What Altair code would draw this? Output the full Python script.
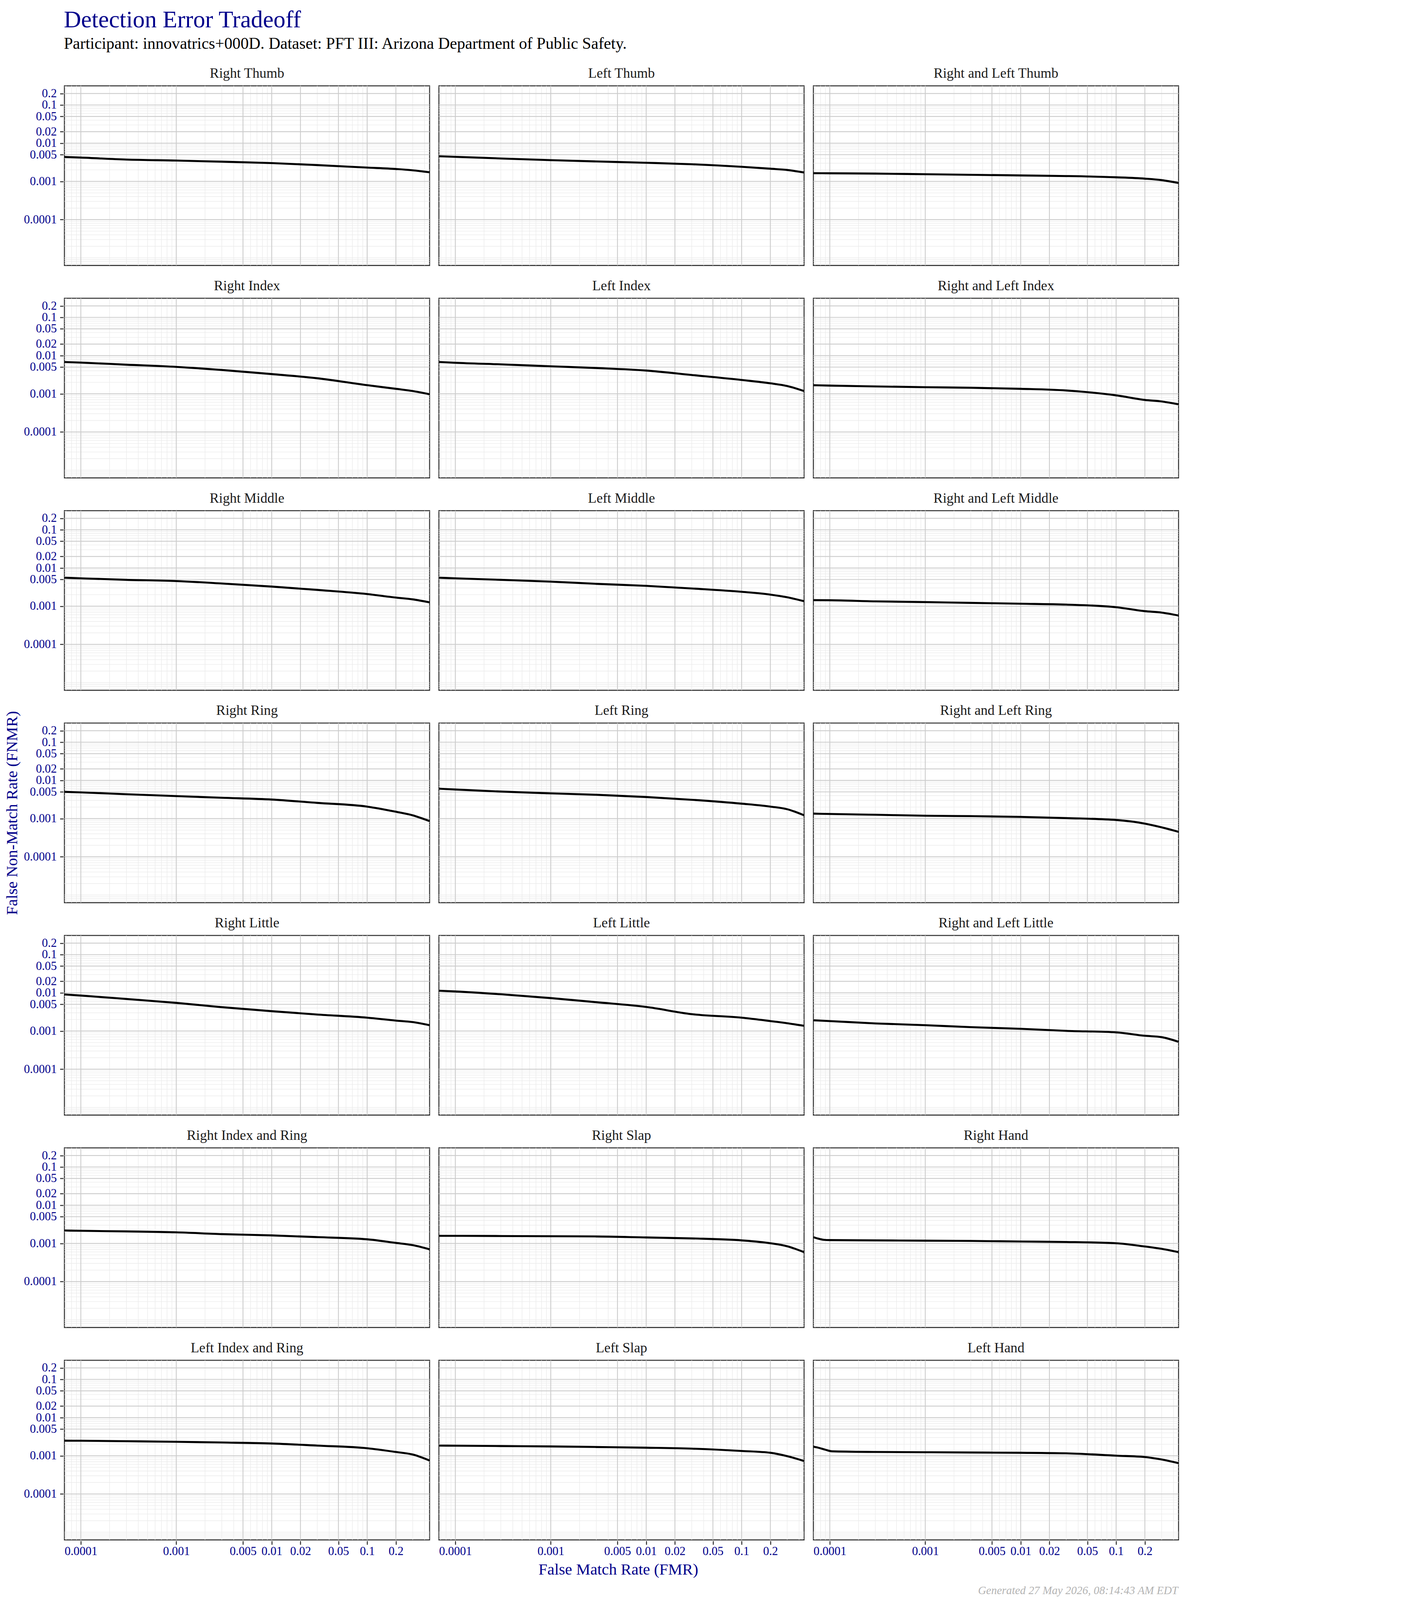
import altair as alt
import pandas as pd

FONT = "Liberation Serif"
BLUE = "#00008B"
S = 0.85  # overall size factor so the whole figure fits the photographed page


def p(v):
    return round(v * S, 2)


TITLE = "Detection Error Tradeoff"
SUBTITLE = "Participant: innovatrics+000D. Dataset: PFT III: Arizona Department of Public Safety."
X_TITLE = "False Match Rate (FMR)"
Y_TITLE = "False Non-Match Rate (FNMR)"
FOOTER = "Generated 27 May 2026, 08:14:43 AM EDT"

PANELS = [
    "Right Thumb", "Left Thumb", "Right and Left Thumb",
    "Right Index", "Left Index", "Right and Left Index",
    "Right Middle", "Left Middle", "Right and Left Middle",
    "Right Ring", "Left Ring", "Right and Left Ring",
    "Right Little", "Left Little", "Right and Left Little",
    "Right Index and Ring", "Right Slap", "Right Hand",
    "Left Index and Ring", "Left Slap", "Left Hand",
]

# FMR sample points
FMR = [6.73e-5, 1e-4, 3e-4, 1e-3, 3e-3, 1e-2, 3e-2, 0.1, 0.2, 0.3, 0.451]
FMR_RIGHT_HAND = [6.73e-5, 7.5e-5, 8.67e-5, 1e-4, 3e-4, 1e-3, 3e-3, 1e-2, 3e-2, 0.1, 0.2, 0.3, 0.451]
FMR_LEFT_HAND = [6.73e-5, 7.78e-5, 9.0e-5, 1.056e-4, 3e-4, 1e-3, 3e-3, 1e-2, 3e-2, 0.1, 0.2, 0.3, 0.451]

# FNMR values per panel
RIGHT_THUMB = [0.00435, 0.0042, 0.00372, 0.00351, 0.00328, 0.00301, 0.00267, 0.0023, 0.00211, 0.00195, 0.00173]
LEFT_THUMB = [0.00455, 0.0044, 0.00398, 0.0036, 0.00333, 0.00307, 0.00281, 0.00241, 0.00215, 0.00199, 0.00171]
RL_THUMB = [0.00164, 0.00163, 0.0016, 0.00154, 0.00149, 0.00143, 0.00138, 0.00128, 0.00118, 0.00108, 0.00091]
RIGHT_INDEX = [0.0068, 0.00656, 0.00578, 0.00506, 0.0042, 0.00328, 0.00255, 0.00168, 0.00135, 0.00118, 0.00097]
LEFT_INDEX = [0.0068, 0.00648, 0.0059, 0.00524, 0.00473, 0.00406, 0.00311, 0.0023, 0.00188, 0.0016, 0.00118]
RL_INDEX = [0.00168, 0.00164, 0.00156, 0.00149, 0.00144, 0.00135, 0.00122, 0.00091, 0.00069, 0.00063, 0.00053]
RIGHT_MIDDLE = [0.00556, 0.00537, 0.0049, 0.00455, 0.00393, 0.00326, 0.00267, 0.00208, 0.00168, 0.00151, 0.00126]
LEFT_MIDDLE = [0.00556, 0.00537, 0.0049, 0.0044, 0.00385, 0.00341, 0.00291, 0.00238, 0.00201, 0.00171, 0.00135]
RL_MIDDLE = [0.00144, 0.00143, 0.00134, 0.00128, 0.00122, 0.00116, 0.0011, 0.00094, 0.00074, 0.00068, 0.00057]
RIGHT_RING = [0.00502, 0.00486, 0.00434, 0.00388, 0.00351, 0.00315, 0.00258, 0.00206, 0.00151, 0.00122, 0.00086]
LEFT_RING = [0.00607, 0.00578, 0.0051, 0.00458, 0.0042, 0.00367, 0.00311, 0.00246, 0.00206, 0.00176, 0.00122]
RL_RING = [0.00135, 0.00132, 0.00126, 0.00119, 0.00116, 0.00111, 0.00103, 0.00092, 0.00074, 0.00059, 0.00045]
RIGHT_LITTLE = [0.00906, 0.00847, 0.00689, 0.00545, 0.0042, 0.0033, 0.0027, 0.00223, 0.00187, 0.00171, 0.00142]
LEFT_LITTLE = [0.01135, 0.01084, 0.00916, 0.00726, 0.00567, 0.00426, 0.00276, 0.00223, 0.00182, 0.0016, 0.00137]
RL_LITTLE = [0.00191, 0.00182, 0.00158, 0.00142, 0.00126, 0.00114, 0.00101, 0.00092, 0.00075, 0.00069, 0.00052]
RIGHT_INDEX_RING = [0.00218, 0.00214, 0.00206, 0.00195, 0.00175, 0.00162, 0.00146, 0.00128, 0.00103, 0.0009, 0.0007]
RIGHT_SLAP = [0.00158, 0.00158, 0.00156, 0.00154, 0.00152, 0.00143, 0.00135, 0.0012, 0.00101, 0.00084, 0.00059]
RIGHT_HAND = [0.00146, 0.00134, 0.00124, 0.00122, 0.0012, 0.00118, 0.00116, 0.00112, 0.00109, 0.00101, 0.00083, 0.00072, 0.00059]
LEFT_INDEX_RING = [0.00249, 0.00248, 0.00241, 0.00233, 0.00223, 0.0021, 0.00185, 0.00158, 0.00126, 0.00108, 0.00075]
LEFT_SLAP = [0.00185, 0.00184, 0.0018, 0.00176, 0.0017, 0.00163, 0.00154, 0.00134, 0.0012, 0.00098, 0.00073]
LEFT_HAND = [0.00173, 0.0016, 0.00144, 0.00131, 0.00126, 0.00124, 0.00122, 0.0012, 0.00116, 0.00101, 0.00093, 0.0008, 0.00064]

CURVES = {
    "Right Thumb": (FMR, RIGHT_THUMB),
    "Left Thumb": (FMR, LEFT_THUMB),
    "Right and Left Thumb": (FMR, RL_THUMB),
    "Right Index": (FMR, RIGHT_INDEX),
    "Left Index": (FMR, LEFT_INDEX),
    "Right and Left Index": (FMR, RL_INDEX),
    "Right Middle": (FMR, RIGHT_MIDDLE),
    "Left Middle": (FMR, LEFT_MIDDLE),
    "Right and Left Middle": (FMR, RL_MIDDLE),
    "Right Ring": (FMR, RIGHT_RING),
    "Left Ring": (FMR, LEFT_RING),
    "Right and Left Ring": (FMR, RL_RING),
    "Right Little": (FMR, RIGHT_LITTLE),
    "Left Little": (FMR, LEFT_LITTLE),
    "Right and Left Little": (FMR, RL_LITTLE),
    "Right Index and Ring": (FMR, RIGHT_INDEX_RING),
    "Right Slap": (FMR, RIGHT_SLAP),
    "Right Hand": (FMR_RIGHT_HAND, RIGHT_HAND),
    "Left Index and Ring": (FMR, LEFT_INDEX_RING),
    "Left Slap": (FMR, LEFT_SLAP),
    "Left Hand": (FMR_LEFT_HAND, LEFT_HAND),
}

# axis tick labels
X_MAJOR = [0.0001, 0.001, 0.005, 0.01, 0.02, 0.05, 0.1, 0.2]
Y_MAJOR = [0.0001, 0.001, 0.005, 0.01, 0.02, 0.05, 0.1, 0.2]
X_DOMAIN = [6.73e-5, 0.451]
Y_DOMAIN = [6.3e-6, 0.317]


def minor_values(lo, hi, major):
    out = []
    for e in range(-7, 1):
        for k in range(1, 10):
            v = round(k * 10.0 ** e, 12)
            if lo < v < hi and all(abs(v - m) > 1e-13 for m in major):
                out.append(v)
    return out


X_MINOR = minor_values(X_DOMAIN[0], X_DOMAIN[1], X_MAJOR)
Y_MINOR = minor_values(Y_DOMAIN[0], Y_DOMAIN[1], Y_MAJOR)

rows = []
for pn in PANELS:
    xs_, ys_ = CURVES[pn]
    for a, b in zip(xs_, ys_):
        rows.append({"panel": pn, "kind": "det", "x": a, "y": b})
    for v in X_MINOR:
        rows.append({"panel": pn, "kind": "vmin", "x": v, "y": None})
    for v in X_MAJOR:
        rows.append({"panel": pn, "kind": "vmaj", "x": v, "y": None})
    for v in Y_MINOR:
        rows.append({"panel": pn, "kind": "hmin", "x": None, "y": v})
    for v in Y_MAJOR:
        rows.append({"panel": pn, "kind": "hmaj", "x": None, "y": v})
df = pd.DataFrame(rows)

xscale = alt.Scale(type="log", domain=X_DOMAIN, nice=False)
yscale = alt.Scale(type="log", domain=Y_DOMAIN, nice=False)
x_axis = alt.Axis(values=X_MAJOR, format="~g", grid=False, domain=False,
                  tickColor="#333333", tickWidth=p(3), tickSize=p(11),
                  labelColor=BLUE, labelFont=FONT, labelFontSize=p(36),
                  labelPadding=p(3), labelFlush=False, labelOverlap=False, title=None)
y_axis = alt.Axis(values=Y_MAJOR, format="~g", grid=False, domain=False,
                  tickColor="#333333", tickWidth=p(3), tickSize=p(10),
                  labelColor=BLUE, labelFont=FONT, labelFontSize=p(36),
                  labelPadding=p(10), labelFlush=False, labelOverlap=False, title=None)

X = alt.X("x:Q", scale=xscale, axis=x_axis)
Y = alt.Y("y:Q", scale=yscale, axis=y_axis)

base = alt.Chart()
vmin = base.mark_rule(color="#EBEBEB", strokeWidth=p(1.6)).encode(x=X).transform_filter(alt.datum.kind == "vmin")
hmin = base.mark_rule(color="#EBEBEB", strokeWidth=p(1.6)).encode(y=Y).transform_filter(alt.datum.kind == "hmin")
vmaj = base.mark_rule(color="#CCCCCC", strokeWidth=p(2.6)).encode(x=X).transform_filter(alt.datum.kind == "vmaj")
hmaj = base.mark_rule(color="#CCCCCC", strokeWidth=p(2.6)).encode(y=Y).transform_filter(alt.datum.kind == "hmaj")
det = base.mark_line(color="black", strokeWidth=p(6), interpolate="monotone", clip=True).encode(
    x=X, y=Y, order="x:Q").transform_filter(alt.datum.kind == "det")

cells = alt.layer(vmin, hmin, vmaj, hmaj, det, data=df).properties(width=p(1100), height=p(541))

facet = cells.facet(
    facet=alt.Facet("panel:N", sort=PANELS, title=None,
                    header=alt.Header(labelFont=FONT, labelFontSize=p(42), labelColor="#1A1A1A",
                                      labelPadding=p(14))),
    columns=3,
    spacing={"row": p(35), "column": p(21)},
)

NOSTROKE = alt.ViewBackground(stroke="transparent")

side = alt.Chart(pd.DataFrame({"t": [Y_TITLE]})).mark_text(
    angle=270, font=FONT, fontSize=p(48), color=BLUE, baseline="middle", align="center"
).encode(text="t:N", x=alt.value(p(26)), y=alt.value(p(2190))).properties(
    width=p(50), height=p(4380), view=NOSTROKE)

xtitle = alt.Chart(pd.DataFrame({"t": [X_TITLE]})).mark_text(
    font=FONT, fontSize=p(48), color=BLUE, baseline="alphabetic", align="center"
).encode(text="t:N", x=alt.value(p(1851)), y=alt.value(p(48)))
footer = alt.Chart(pd.DataFrame({"t": [FOOTER]})).mark_text(
    font=FONT, fontSize=p(34), fontStyle="italic", color="#B3B3B3", baseline="alphabetic", align="right"
).encode(text="t:N", x=alt.value(p(3537)), y=alt.value(p(107)))
bottom = alt.layer(xtitle, footer).properties(width=p(3537), height=p(110), view=NOSTROKE)

chart = alt.vconcat(
    alt.hconcat(side, facet, spacing=p(7)),
    bottom,
    spacing=0,
).properties(
    padding={"left": 0, "top": p(15), "right": 0, "bottom": 0},
    title=alt.TitleParams(
        text=TITLE, subtitle=SUBTITLE, anchor="start", frame="bounds",
        font=FONT, fontSize=p(72), fontWeight="normal", color=BLUE,
        subtitleFont=FONT, subtitleFontSize=p(49), subtitleColor="black",
        subtitlePadding=p(10), offset=p(40), dx=p(182),
    ),
).configure_view(stroke="#333333", strokeWidth=p(3))

chart.save("out.html", embed_options={"renderer": "svg", "actions": False})
